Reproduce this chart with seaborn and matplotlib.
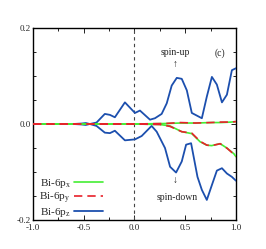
import matplotlib
matplotlib.use("Agg")
import matplotlib.pyplot as plt
import seaborn as sns
import numpy as np
import pandas as pd
from matplotlib.ticker import MultipleLocator

# --- data ---
pz_up_x = [-1.0, -0.8, -0.6, -0.52, -0.48, -0.44, -0.374, -0.292, -0.242, -0.193, -0.094, 0.005, 0.054,
           0.153, 0.202, 0.268, 0.318, 0.367, 0.417, 0.466, 0.516, 0.565, 0.664, 0.713,
           0.763, 0.812, 0.862, 0.911, 0.960, 1.0]
pz_up_y = [0.0, 0.0, 0.0, 0.001, 0.002, 0.0, 0.003, 0.021, 0.019, 0.014, 0.045, 0.023, 0.028,
           0.009, 0.012, 0.021, 0.043, 0.080, 0.096, 0.094, 0.070, 0.023, 0.012, 0.057,
           0.098, 0.082, 0.045, 0.061, 0.112, 0.116]

pz_dn_x = [-1.0, -0.8, -0.6, -0.52, -0.48, -0.44, -0.374, -0.292, -0.242, -0.193, -0.094, 0.005, 0.071,
           0.169, 0.219, 0.301, 0.351, 0.410, 0.466, 0.509, 0.558, 0.621, 0.664, 0.713,
           0.763, 0.812, 0.862, 0.911, 0.960, 1.0]
pz_dn_y = [0.0, 0.0, 0.0, -0.001, -0.002, 0.0, -0.004, -0.018, -0.019, -0.014, -0.034, -0.032, -0.025,
           -0.004, -0.016, -0.050, -0.089, -0.101, -0.078, -0.043, -0.040, -0.110, -0.137, -0.158,
           -0.127, -0.097, -0.092, -0.103, -0.110, -0.118]

p_up_x = [-1.0, -0.5, 0.0, 0.3, 0.45, 0.6, 0.75, 0.85, 0.95, 1.0]
px_up_y = [0.0, 0.0, 0.0, 0.001, 0.002, 0.002, 0.003, 0.003, 0.004, 0.005]
py_up_y = [0.0, 0.0, 0.0, 0.001, 0.003, 0.002, 0.003, 0.004, 0.004, 0.005]

p_dn_x = [-1.0, -0.5, 0.0, 0.25, 0.35, 0.466, 0.565, 0.647, 0.713, 0.76, 0.845, 0.91, 0.98, 1.0]
px_dn_y = [0.0, 0.0, 0.0, -0.001, -0.004, -0.016, -0.020, -0.037, -0.044, -0.045, -0.041, -0.050, -0.062, -0.068]
py_dn_y = [0.0, 0.0, 0.0, -0.001, -0.005, -0.016, -0.019, -0.036, -0.044, -0.045, -0.041, -0.050, -0.063, -0.068]

labels = [r"Bi-6p$_\mathrm{x}$", r"Bi-6p$_\mathrm{y}$", r"Bi-6p$_\mathrm{z}$"]
x_ticks = [-1.0, -0.5, 0.0, 0.5, 1.0]
y_ticks = [-0.2, 0.0, 0.2]

sns.set_style("ticks")
plt.rcParams["font.family"] = ["Liberation Serif", "DejaVu Serif"]
plt.rcParams["mathtext.fontset"] = "custom"
plt.rcParams["mathtext.rm"] = "Liberation Serif"

fig = plt.figure(figsize=(2.66, 2.49), dpi=100)
ax = fig.add_axes([0.124, 0.116, 0.763, 0.772])

green = "#44ee33"
red = "#e8202a"
blue = "#1c4fae"
lw = 1.2

ax.axvline(0, color="#444444", lw=0.8, ls=(0, (3, 3)), zorder=1)

sns.lineplot(x=pz_up_x, y=pz_up_y, ax=ax, color=blue, lw=lw + 0.1, sort=False, estimator=None, zorder=3)
sns.lineplot(x=pz_dn_x, y=pz_dn_y, ax=ax, color=blue, lw=lw + 0.1, sort=False, estimator=None, zorder=3,
             label=labels[2])
sns.lineplot(x=p_up_x, y=px_up_y, ax=ax, color=green, lw=lw, sort=False, estimator=None, zorder=4)
sns.lineplot(x=p_dn_x, y=px_dn_y, ax=ax, color=green, lw=lw, sort=False, estimator=None, zorder=4,
             label=labels[0])
sns.lineplot(x=p_up_x, y=py_up_y, ax=ax, color=red, lw=lw, sort=False, estimator=None, zorder=5,
             linestyle=(0, (5, 3)))
sns.lineplot(x=p_dn_x, y=py_dn_y, ax=ax, color=red, lw=lw, sort=False, estimator=None, zorder=5,
             linestyle=(0, (5, 3)), label=labels[1])

ax.set_xlim(-1.0, 1.0)
ax.set_ylim(-0.2, 0.2)
ax.set_xticks(x_ticks)
ax.set_yticks(y_ticks)
ax.set_xticklabels([f"{v:.1f}" for v in x_ticks])
ax.set_yticklabels([f"{v:.1f}" for v in y_ticks])
ax.xaxis.set_minor_locator(MultipleLocator(0.25))
ax.yaxis.set_minor_locator(MultipleLocator(0.05))
ax.tick_params(which="both", direction="in", top=True, right=True, labelsize=6.5,
               width=0.7, color="#222222")
ax.tick_params(axis="x", pad=2.5)
ax.tick_params(axis="y", pad=1.5)
ax.tick_params(which="major", length=3.5)
ax.tick_params(which="minor", length=2.5)
for s in ax.spines.values():
    s.set_linewidth(1.0)
    s.set_color("black")
ax.set_xlabel("")
ax.set_ylabel("")

ax.text(0.40, 0.148, "spin-up", fontsize=7, ha="center", va="center")
ax.text(0.40, 0.123, "\u2191", fontsize=7, ha="center", va="center")
ax.text(0.845, 0.148, "(c)", fontsize=7, ha="center", va="center")
ax.text(0.42, -0.153, "spin-down", fontsize=7, ha="center", va="center")
ax.text(0.40, -0.117, "\u2193", fontsize=7, ha="center", va="center")

h, l = ax.get_legend_handles_labels()
order = [l.index(lab) for lab in labels]
leg = ax.legend([h[i] for i in order], [l[i] for i in order], loc="lower left", frameon=False,
                markerfirst=False, fontsize=8, handlelength=2.6, handletextpad=0.3,
                labelspacing=0.0, borderaxespad=0.0, bbox_to_anchor=(0.01, -0.015))

fig.savefig("out.png", dpi=100)
